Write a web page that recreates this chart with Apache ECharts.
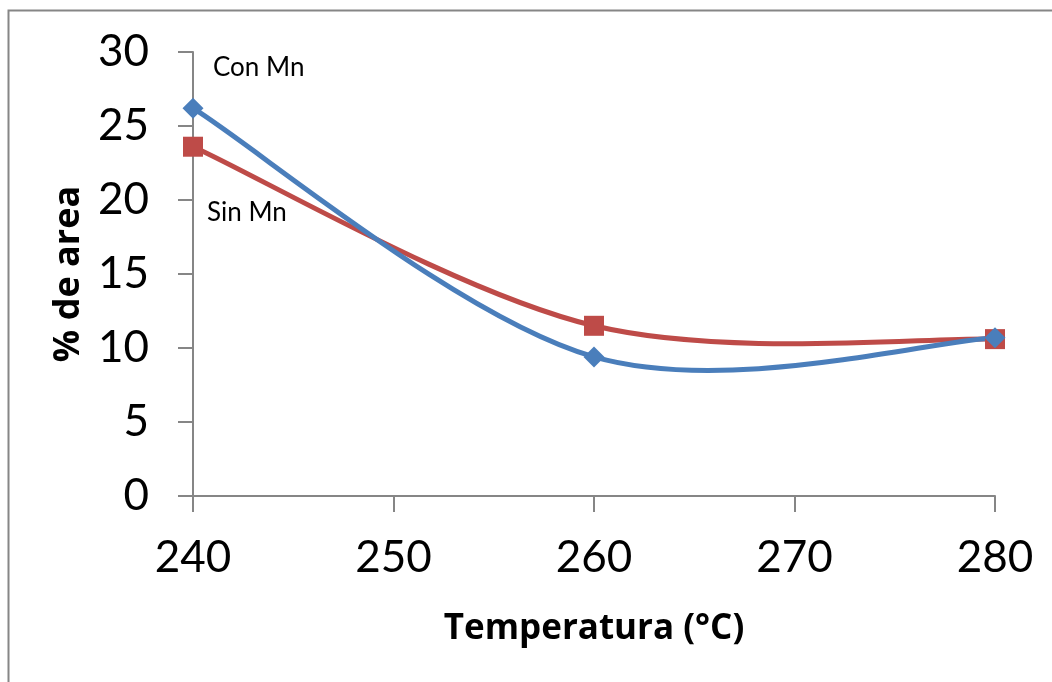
<!DOCTYPE html>
<html>
<head>
<meta charset="utf-8">
<script src="https://cdn.jsdelivr.net/npm/echarts@6/dist/echarts.min.js"></script>
<style>
  html, body { margin: 0; padding: 0; background: #fff; }
  #chart { width: 1052px; height: 682px; }
</style>
</head>
<body>
<div id="chart"></div>
<script>
// Temperatures (°C) and % of area for each series
const temperatures = [240, 260, 280];
const conMn = [26.2, 9.4, 10.7];
const sinMn = [23.6, 11.5, 10.6];
const xTicks = [240, 250, 260, 270, 280];
const yTicks = [0, 5, 10, 15, 20, 25, 30];

const FONT = 'Lato, "Open Sans", sans-serif';
const TITLE_FONT = '"Open Sans", Lato, sans-serif';
const AXIS_GREY = '#868686';
const BLUE = '#4a7ebb';
const RED = '#be4b48';

const chart = echarts.init(document.getElementById('chart'), null, { renderer: 'canvas' });

// Smoothed curve through the points: Catmull-Rom segments drawn as cubic Béziers
// (tangent = (next - prev) / 6), with end points used as their own neighbours.
function smoothCurve(values, color) {
  return {
    type: 'custom',
    data: temperatures.map((t, i) => [t, values[i]]),
    silent: true,
    z: 1,
    renderItem: function (params, api) {
      const i = params.dataIndex;
      const n = temperatures.length;
      if (i >= n - 1) return null;
      const p = k => {
        const j = Math.max(0, Math.min(n - 1, k));
        return api.coord([temperatures[j], values[j]]);
      };
      const p0 = p(i - 1), p1 = p(i), p2 = p(i + 1), p3 = p(i + 2);
      return {
        type: 'bezierCurve',
        shape: {
          x1: p1[0], y1: p1[1],
          x2: p2[0], y2: p2[1],
          cpx1: p1[0] + (p2[0] - p0[0]) / 6,
          cpy1: p1[1] + (p2[1] - p0[1]) / 6,
          cpx2: p2[0] - (p3[0] - p1[0]) / 6,
          cpy2: p2[1] - (p3[1] - p1[1]) / 6
        },
        style: { stroke: color, lineWidth: 5, fill: null, lineCap: 'round' }
      };
    }
  };
}

chart.setOption({
  animation: false,
  backgroundColor: '#ffffff',
  grid: { left: 193, right: 57, top: 52, bottom: 186, containLabel: false },
  xAxis: {
    type: 'value',
    min: xTicks[0],
    max: xTicks[xTicks.length - 1],
    interval: 10,
    name: 'Temperatura (°C)',
    nameLocation: 'middle',
    nameGap: 116,
    nameTextStyle: { fontFamily: TITLE_FONT, fontSize: 35, fontWeight: 'bold', color: '#000' },
    axisLine: { lineStyle: { color: AXIS_GREY, width: 2 } },
    axisTick: { show: true, inside: false, length: 16, lineStyle: { color: AXIS_GREY, width: 2 } },
    axisLabel: { margin: 40, fontFamily: FONT, fontSize: 44, color: '#000' },
    splitLine: { show: false }
  },
  yAxis: {
    type: 'value',
    min: yTicks[0],
    max: yTicks[yTicks.length - 1],
    interval: 5,
    name: '% de area',
    nameLocation: 'middle',
    nameRotate: 90,
    nameGap: 106,
    nameTextStyle: { fontFamily: TITLE_FONT, fontSize: 36, fontWeight: 'bold', color: '#000' },
    axisLine: { show: true, lineStyle: { color: AXIS_GREY, width: 2 } },
    axisTick: { show: true, inside: false, length: 15, lineStyle: { color: AXIS_GREY, width: 2 } },
    axisLabel: { margin: 44, fontFamily: FONT, fontSize: 44, color: '#000' },
    splitLine: { show: false }
  },
  series: [
    smoothCurve(sinMn, RED),
    smoothCurve(conMn, BLUE),
    {
      name: 'Sin Mn',
      type: 'scatter',
      data: temperatures.map((t, i) => [t, sinMn[i]]),
      symbol: 'rect',
      symbolSize: 20,
      itemStyle: { color: RED, opacity: 1 },
      z: 3
    },
    {
      name: 'Con Mn',
      type: 'scatter',
      data: temperatures.map((t, i) => [t, conMn[i]]),
      symbol: 'diamond',
      symbolSize: 21,
      itemStyle: { color: BLUE, opacity: 1 },
      z: 4
    }
  ],
  graphic: [
    {
      type: 'rect',
      left: 6, top: 8,
      shape: { width: 1100, height: 700 },
      style: { fill: 'none', stroke: AXIS_GREY, lineWidth: 2 },
      silent: true, z: -1
    },
    {
      type: 'text', left: 213, top: 55,
      style: { text: 'Con Mn', font: '26px ' + FONT, fill: '#000' }
    },
    {
      type: 'text', left: 207, top: 200,
      style: { text: 'Sin Mn', font: '26px ' + FONT, fill: '#000' }
    }
  ]
});
</script>
</body>
</html>
